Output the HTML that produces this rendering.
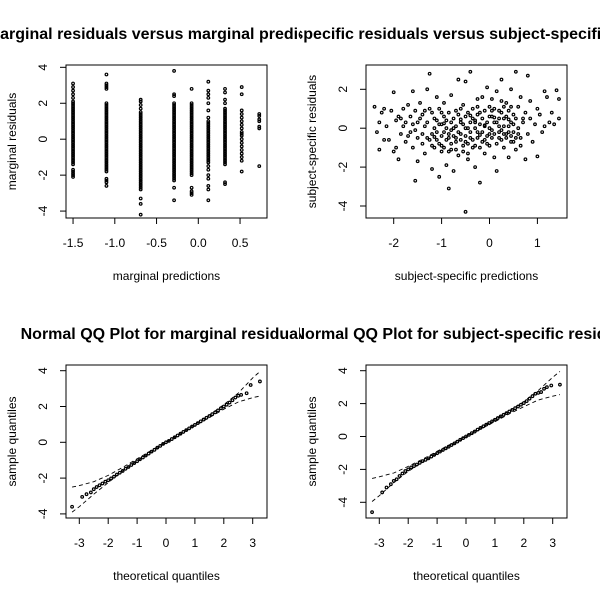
<!DOCTYPE html>
<html><head><meta charset="utf-8"><style>
html,body{margin:0;padding:0;background:#fff;}
svg{display:block;font-family:"Liberation Sans",Arial,sans-serif;}
</style></head><body>
<svg id="chart" width="600" height="600" viewBox="0 0 600 600" xmlns="http://www.w3.org/2000/svg">
<defs>
<clipPath id="cl"><rect x="0" y="0" width="300" height="600"/></clipPath>
<clipPath id="cr"><rect x="300" y="0" width="300" height="600"/></clipPath>
</defs>
<rect width="600" height="600" fill="#fff"/>
<g clip-path="url(#cl)"><text x="166" y="39" text-anchor="middle" font-size="16" font-weight="bold">Marginal residuals versus marginal predictions</text></g>
<g clip-path="url(#cr)"><text x="466" y="39" text-anchor="middle" font-size="16" font-weight="bold">Subject-specific residuals versus subject-specific predictions</text></g>
<g clip-path="url(#cl)"><text x="166" y="339" text-anchor="middle" font-size="16" font-weight="bold">Normal QQ Plot for marginal residuals</text></g>
<g clip-path="url(#cr)"><text x="466" y="339" text-anchor="middle" font-size="16" font-weight="bold">Normal QQ Plot for subject-specific residuals</text></g>
</svg>
<script>
// Panel 1: marginal predictions (columns) and residuals
const margPred = [-1.5, -1.1, -0.69, -0.29, -0.08, 0.12, 0.32, 0.52, 0.73];
const margRes = [
 [3.1,2.9,2.7,2.5,2.3,2.1,2.0,1.9,1.8,1.7,1.6,1.5,1.4,1.3,1.2,1.1,1.0,0.9,0.8,0.7,0.6,0.5,0.4,0.3,0.2,0.1,0.0,-0.1,-0.2,-0.3,-0.4,-0.5,-0.6,-0.7,-0.8,-0.9,-1.0,-1.1,-1.2,-1.3,-1.4,-1.7,-1.8,-1.9,-2.0,-2.1],
 [3.6,3.1,3.0,2.9,2.8,2.0,1.9,1.8,1.7,1.6,1.5,1.4,1.3,1.2,1.1,1.0,0.9,0.8,0.7,0.6,0.5,0.4,0.3,0.2,0.1,0.0,-0.1,-0.2,-0.3,-0.4,-0.5,-0.6,-0.7,-0.8,-0.9,-1.0,-1.1,-1.2,-1.3,-1.4,-1.5,-1.6,-1.7,-1.8,-2.2,-2.3,-2.4,-2.6],
 [2.2,2.1,1.9,1.7,1.5,1.4,1.3,1.2,1.1,1.0,0.9,0.8,0.7,0.6,0.5,0.4,0.3,0.2,0.1,0.0,-0.1,-0.2,-0.3,-0.4,-0.5,-0.6,-0.7,-0.8,-0.9,-1.0,-1.1,-1.2,-1.3,-1.4,-1.5,-1.6,-1.7,-1.8,-1.9,-2.0,-2.1,-2.2,-2.3,-2.4,-2.5,-2.6,-2.7,-2.8,-3.3,-3.6,-4.2],
 [3.8,2.5,2.4,2.0,1.9,1.8,1.7,1.6,1.5,1.4,1.3,1.2,1.1,1.0,0.9,0.8,0.7,0.6,0.5,0.4,0.3,0.2,0.1,0.0,-0.1,-0.2,-0.3,-0.4,-0.5,-0.6,-0.7,-0.8,-0.9,-1.0,-1.1,-1.2,-1.3,-1.4,-1.5,-1.6,-1.7,-1.8,-1.9,-2.0,-2.1,-2.2,-2.3,-2.7,-3.4],
 [2.8,2.0,1.9,1.8,1.7,1.6,1.5,1.4,1.3,1.2,1.1,1.0,0.9,0.8,0.7,0.6,0.5,0.4,0.3,0.2,0.1,0.0,-0.1,-0.2,-0.3,-0.4,-0.5,-0.6,-0.7,-0.8,-0.9,-1.0,-1.1,-1.2,-1.3,-1.4,-1.5,-1.6,-1.7,-1.8,-1.9,-2.0,-2.7,-2.9,-3.0,-3.1],
 [3.2,2.7,2.5,2.3,2.0,1.6,1.2,1.0,0.9,0.8,0.7,0.6,0.5,0.4,0.3,0.2,0.1,0.0,-0.1,-0.2,-0.3,-0.4,-0.5,-0.6,-0.7,-0.8,-0.9,-1.0,-1.1,-1.2,-1.3,-1.5,-1.7,-2.0,-2.2,-2.6,-2.8,-3.4],
 [2.8,2.6,2.2,2.0,1.7,1.6,1.5,1.4,1.3,1.2,1.1,1.0,0.9,0.8,0.7,0.6,0.5,0.4,0.3,0.2,0.1,0.0,-0.1,-0.2,-0.3,-0.4,-0.5,-0.6,-0.7,-0.8,-0.9,-1.0,-1.1,-1.2,-1.3,-1.4,-2.4,-2.5],
 [2.9,2.5,1.6,1.4,1.2,1.0,0.8,0.6,0.4,0.3,0.2,0.0,-0.2,-0.4,-0.6,-0.8,-1.0,-1.2,-1.8],
 [1.4,1.3,1.1,1.0,0.7,0.6,-1.5]
];
// Panel 2: subject-specific predictions / residuals (x, y)
const ssPoints = [[-2.4,1.1],[-2.35,-0.2],[-2.3,-1.1],[-2.3,0.3],[-2.25,0.8],[-2.2,-0.6],[-2.2,1.0],[-2.15,0.1],[-2.1,-0.6],[-2.05,0.9],[-2.0,1.85],[-2.0,-1.2],[-1.95,0.4],[-1.95,-1.0],[-1.9,-1.6],[-1.9,0.6],[-1.85,-0.3],[-1.8,1.0],[-1.8,0.1],[-1.75,-0.7],[-1.7,1.2],[-1.7,-0.4],[-1.65,0.6],[-1.6,-1.0],[-1.6,1.9],[-1.55,-2.7],[-1.55,-0.1],[-1.5,0.3],[-1.5,-1.7],[-1.45,1.3],[-1.4,-0.8],[-1.4,0.7],[-1.35,-1.3],[-1.35,0.1],[-1.3,2.0],[-1.3,-0.5],[-1.25,2.8],[-1.25,1.0],[-1.2,-0.3],[-1.2,-2.1],[-1.15,0.5],[-1.15,-1.0],[-1.1,1.6],[-1.1,-0.6],[-1.05,0.2],[-1.05,-2.5],[-1.0,0.8],[-1.0,-1.2],[-0.95,-0.2],[-0.95,1.3],[-0.9,-1.9],[-0.9,0.4],[-0.85,-0.5],[-0.85,-3.1],[-0.8,1.7],[-0.8,-1.1],[-0.75,0.0],[-0.75,-2.2],[-0.7,0.9],[-0.7,-0.7],[-0.65,2.5],[-0.65,-1.4],[-0.6,0.3],[-0.6,-0.3],[-0.55,1.2],[-0.55,-0.9],[-0.5,-4.3],[-0.5,0.6],[-0.5,2.4],[-0.45,-1.6],[-0.45,0.0],[-0.4,2.9],[-0.4,-0.5],[-0.35,1.0],[-0.35,-1.0],[-0.3,0.4],[-0.3,-2.0],[-0.25,1.5],[-0.25,-0.2],[-0.2,-2.8],[-0.2,0.8],[-0.15,-0.7],[-0.15,1.6],[-0.1,0.1],[-0.1,-1.3],[-0.05,2.1],[-0.05,-0.4],[0.0,0.6],[0.0,-0.9],[0.05,1.5],[0.05,-0.1],[0.1,-1.5],[0.1,0.3],[0.15,1.9],[0.15,-2.2],[0.2,-0.5],[0.2,0.9],[0.25,2.5],[0.25,-0.1],[0.3,-1.0],[0.3,0.5],[0.35,1.3],[0.35,-0.3],[0.4,-1.5],[0.4,0.1],[0.45,2.0],[0.45,-0.7],[0.5,0.7],[0.5,-0.2],[0.55,2.9],[0.55,-1.1],[0.6,1.1],[0.6,0.0],[0.65,-0.5],[0.65,1.6],[0.7,0.3],[0.75,-1.6],[0.75,0.8],[0.8,2.7],[0.8,-0.3],[0.85,0.5],[0.85,1.4],[0.9,-0.7],[0.95,0.2],[1.0,-1.45],[1.0,1.0],[1.05,0.7],[1.1,-0.2],[1.15,1.9],[1.15,0.1],[1.2,1.6],[1.25,0.3],[1.3,0.8],[1.35,0.2],[1.4,1.95],[1.45,0.5],[1.45,1.5],
[-1.3,0.3],[-1.25,-0.6],[-1.2,0.8],[-1.2,-0.9],[-1.15,0.0],[-1.1,-0.2],[-1.1,0.4],[-1.05,-0.8],[-1.05,1.0],[-1.0,0.2],[-1.0,-0.4],[-0.95,0.6],[-0.95,-1.0],[-0.9,0.0],[-0.9,-0.6],[-0.85,0.8],[-0.85,-0.3],[-0.8,0.3],[-0.8,-0.8],[-0.75,-0.4],[-0.75,0.5],[-0.7,0.1],[-0.7,-1.1],[-0.65,-0.2],[-0.65,0.7],[-0.6,-0.6],[-0.6,1.0],[-0.55,0.2],[-0.55,-1.2],[-0.5,-0.4],[-0.5,0.0],[-0.45,0.8],[-0.45,-0.8],[-0.4,0.3],[-0.4,-0.2],[-0.35,-0.6],[-0.35,0.5],[-0.3,0.0],[-0.3,-0.9],[-0.25,0.7],[-0.25,-0.5],[-0.2,0.2],[-0.2,-1.0],[-0.15,0.5],[-0.15,-0.2],[-0.1,0.9],[-0.1,-0.6],[-0.05,0.3],[-0.05,-0.8],[0.0,0.0],[0.0,1.1],[0.05,-0.5],[0.05,0.6],[0.1,1.0],[0.1,-0.3],[0.15,0.3],[0.15,-0.8],[0.2,0.5],[0.2,-0.2],[0.25,0.8],[0.25,-0.6],[0.3,0.1],[0.3,1.1],[0.35,-0.5],[0.35,0.6],[0.4,-0.2],[0.4,0.9],[0.45,0.3],[0.45,-0.4],[0.5,0.2],[0.55,-0.5],[0.55,0.5],[0.6,-0.3],[-1.4,-0.3],[-1.45,0.5],[-1.5,-0.5],[-1.6,0.2],[-1.65,-0.2],[-1.75,0.3],[-1.85,0.5],[-0.95,0.25],[-0.8,-0.1],[-0.6,0.45],[-0.4,0.65],[-0.2,-0.35],[0.0,-0.3],[0.2,0.1],[0.4,0.45],[-1.0,-0.9],[-0.7,-0.5],[-0.5,-0.7],[-0.3,0.3],[-0.1,0.15],[0.1,0.55],[0.3,-0.3],[0.5,-0.7],[-1.15,-0.45],[-0.85,-1.2],[-0.45,-1.3],[-0.25,1.1],[0.05,0.9],[0.25,1.4],[0.45,1.1],[0.65,-0.9],[0.7,0.5],[-1.35,0.9],[-1.55,0.9]];
// Panel 3: QQ marginal
const qq1Theo = [-3.25,-2.9,-2.75,-2.6,-2.5,-2.4,-2.3,-2.2,-2.1,-2.0,-1.9,-1.8,-1.7,-1.6,-1.5,-1.4,-1.3,-1.2,-1.1,-1.0,-0.9,-0.8,-0.7,-0.6,-0.5,-0.4,-0.3,-0.2,-0.1,0.0,0.1,0.2,0.3,0.4,0.5,0.6,0.7,0.8,0.9,1.0,1.1,1.2,1.3,1.4,1.5,1.6,1.7,1.8,1.9,2.0,2.1,2.2,2.3,2.4,2.5,2.6,2.79,2.93,3.25];
const qq1Samp = [-3.6,-3.05,-2.9,-2.8,-2.62,-2.5,-2.4,-2.3,-2.2,-2.12,-2.02,-1.92,-1.8,-1.7,-1.6,-1.48,-1.38,-1.27,-1.16,-1.06,-0.95,-0.85,-0.74,-0.63,-0.52,-0.42,-0.3,-0.2,-0.09,0.0,0.08,0.18,0.28,0.38,0.48,0.58,0.68,0.78,0.88,0.97,1.07,1.17,1.27,1.37,1.47,1.57,1.67,1.78,1.9,2.0,2.1,2.22,2.35,2.5,2.6,2.65,2.74,3.2,3.4];
const envTheo = [-3.25,-3,-2.5,-2,-1.5,-1,0,1,1.5,2,2.5,3,3.25];
const qq1Upper = [-2.5,-2.42,-2.2,-1.85,-1.4,-0.92,0.02,1.0,1.52,2.1,2.75,3.6,3.95];
const qq1Lower = [-3.9,-3.6,-2.9,-2.25,-1.6,-1.05,-0.02,0.92,1.38,1.85,2.25,2.5,2.58];
// Panel 4: QQ subject-specific
const qq2Theo = [-3.25,-2.9,-2.75,-2.6,-2.5,-2.4,-2.3,-2.2,-2.1,-2.0,-1.9,-1.8,-1.7,-1.6,-1.5,-1.4,-1.3,-1.2,-1.1,-1.0,-0.9,-0.8,-0.7,-0.6,-0.5,-0.4,-0.3,-0.2,-0.1,0.0,0.1,0.2,0.3,0.4,0.5,0.6,0.7,0.8,0.9,1.0,1.1,1.2,1.3,1.4,1.5,1.6,1.7,1.8,1.9,2.0,2.1,2.2,2.3,2.4,2.5,2.6,2.7,2.8,2.95,3.25];
const qq2Samp = [-4.6,-3.4,-3.1,-2.9,-2.7,-2.6,-2.4,-2.25,-2.1,-2.0,-1.88,-1.8,-1.7,-1.6,-1.5,-1.42,-1.33,-1.22,-1.12,-1.02,-0.92,-0.82,-0.72,-0.62,-0.52,-0.42,-0.31,-0.2,-0.1,0.0,0.1,0.2,0.3,0.42,0.52,0.62,0.72,0.82,0.92,1.02,1.12,1.22,1.32,1.42,1.52,1.62,1.72,1.82,1.93,2.03,2.15,2.3,2.45,2.6,2.65,2.7,2.9,3.0,3.1,3.15];
const qq2Upper = [-2.55,-2.45,-2.22,-1.82,-1.38,-0.9,0.02,1.02,1.55,2.12,2.8,3.6,3.95];
const qq2Lower = [-3.95,-3.6,-2.8,-2.12,-1.55,-1.02,-0.02,0.9,1.38,1.81,2.22,2.45,2.55];

const SVG = "http://www.w3.org/2000/svg";
const root = document.getElementById('chart');
function mk(tag, attrs, parent) {
  const e = document.createElementNS(SVG, tag);
  for (const k in attrs) e.setAttribute(k, attrs[k]);
  (parent || root).appendChild(e);
  return e;
}
function makePanel(id, box, xf, yf, xticks, xlabels, yticks, xtitle, ytitle) {
  const g = mk('g', {});
  
  
  const sx = v => xf[0] + v * xf[1];
  const sy = v => yf[0] - v * yf[1];
  const frame = mk('rect', {x: box[0], y: box[1], width: box[2] - box[0], height: box[3] - box[1], fill: 'none', stroke: '#000', 'stroke-width': 1}, g);
  
  
  const xa = mk('g', {}, g);
  
  
  xticks.forEach((t, i) => {
    mk('line', {x1: sx(t), x2: sx(t), y1: box[3], y2: box[3] + 6, stroke: '#000'}, xa);
    const tx = mk('text', {x: sx(t), y: box[3] + 29, 'text-anchor': 'middle', 'font-size': 12}, xa);
    tx.textContent = xlabels[i];
    
    
  });
  const ya = mk('g', {}, g);
  
  
  yticks.forEach(t => {
    mk('line', {x1: box[0] - 6, x2: box[0], y1: sy(t), y2: sy(t), stroke: '#000'}, ya);
    const tx = mk('text', {x: box[0] - 19, y: sy(t), 'text-anchor': 'middle', 'font-size': 12, transform: `rotate(-90 ${box[0] - 19} ${sy(t)})`}, ya);
    tx.textContent = String(t);
    
    
  });
  const xt = mk('text', {x: (box[0] + box[2]) / 2, y: box[3] + 62, 'text-anchor': 'middle', 'font-size': 12}, g);
  xt.textContent = xtitle;
  
  
  const yx = box[0] - 50, ym = (box[1] + box[3]) / 2;
  const yt = mk('text', {x: yx, y: ym, 'text-anchor': 'middle', 'font-size': 12, transform: `rotate(-90 ${yx} ${ym})`}, g);
  yt.textContent = ytitle;
  
  
  return {g, sx, sy};
}
function pt(p, x, y) {
  const c = mk('circle', {cx: p.sx(x), cy: p.sy(y), r: 1.3, fill: 'none', stroke: '#000', 'stroke-width': 1.2}, p.g);
  
  
}
function dashed(p, xs, ys, name) {
  const d = xs.map((x, i) => (i ? 'L' : 'M') + p.sx(x).toFixed(1) + ' ' + p.sy(ys[i]).toFixed(1)).join(' ');
  const l = mk('path', {d: d, fill: 'none', stroke: '#000', 'stroke-width': 0.9, 'stroke-dasharray': '4 3'}, p.g);
  
  
}

const p1 = makePanel('marginal', [66, 65, 267, 218], [198.3, 83.5], [139.2, 17.97], [-1.5, -1, -0.5, 0, 0.5], ['-1.5', '-1.0', '-0.5', '0.0', '0.5'], [-4, -2, 0, 2, 4], 'marginal predictions', 'marginal residuals');
margPred.forEach((x, i) => margRes[i].forEach(y => pt(p1, x, y)));

const p2 = makePanel('subject', [366, 65, 567, 218], [489.5, 47.9], [128.2, 19.45], [-2, -1, 0, 1], ['-2', '-1', '0', '1'], [-4, -2, 0, 2], 'subject-specific predictions', 'subject-specific residuals');
ssPoints.forEach(q => pt(p2, q[0], q[1]));

const p3 = makePanel('qq-marginal', [66, 365, 267, 518], [166, 28.9], [442.3, 17.9], [-3, -2, -1, 0, 1, 2, 3], ['-3', '-2', '-1', '0', '1', '2', '3'], [-4, -2, 0, 2, 4], 'theoretical quantiles', 'sample quantiles');
dashed(p3, envTheo, qq1Upper, 'qq-marginal-upper-envelope');
dashed(p3, envTheo, qq1Lower, 'qq-marginal-lower-envelope');
qq1Theo.forEach((x, i) => pt(p3, x, qq1Samp[i]));

const p4 = makePanel('qq-subject', [366, 365, 567, 518], [466, 28.9], [436.5, 16.45], [-3, -2, -1, 0, 1, 2, 3], ['-3', '-2', '-1', '0', '1', '2', '3'], [-4, -2, 0, 2, 4], 'theoretical quantiles', 'sample quantiles');
dashed(p4, envTheo, qq2Upper, 'qq-subject-upper-envelope');
dashed(p4, envTheo, qq2Lower, 'qq-subject-lower-envelope');
qq2Theo.forEach((x, i) => pt(p4, x, qq2Samp[i]));
</script>
</body></html>
